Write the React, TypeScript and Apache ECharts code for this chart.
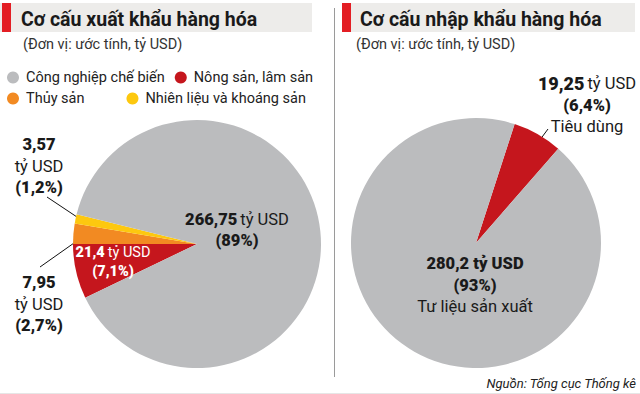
import React, { useEffect, useRef } from 'react';
import * as echarts from 'echarts';

// ---- Data ----
const exportNames = ['Nông sản, lâm sản', 'Thủy sản', 'Nhiên liệu và khoáng sản', 'Công nghiệp chế biến'];
const exportValues = [21.4, 7.95, 3.57, 266.75];
const exportPercents = ['7,1%', '2,7%', '1,2%', '89%'];
const exportColors = ['#c5161d', '#f28a22', '#fdc80f', '#bbbcbe'];

const importNames = ['Tiêu dùng', 'Tư liệu sản xuất'];
const importValues = [19.25, 280.2];
const importPercents = ['6,4%', '93%'];
const importColors = ['#c5161d', '#bbbcbe'];

const legendRow1 = ['Công nghiệp chế biến', 'Nông sản, lâm sản'];
const legendRow2 = ['Thủy sản', 'Nhiên liệu và khoáng sản'];

const FONT = 'Roboto, "Noto Sans", sans-serif';
const LC = [197, 244];
const LR = 124;
const RC = [476, 243];
const RR = 125;

const fmt = (v: number) => String(v).replace('.', ',');

function midAngle(vals: number[], start: number, i: number) {
  const total = vals.reduce((a, b) => a + b, 0);
  let acc = 0;
  for (let j = 0; j < i; j++) acc += vals[j];
  return start - (360 * (acc + vals[i] / 2)) / total;
}
function pt(c: number[], r: number, deg: number) {
  const a = (deg * Math.PI) / 180;
  return [c[0] + r * Math.cos(a), c[1] - r * Math.sin(a)];
}

export default function App() {
  const ref = useRef<HTMLDivElement>(null);
  useEffect(() => {
    document.body.style.margin = '0';
    const chart = echarts.init(ref.current!, null, { renderer: 'svg' });
    const expTotal = exportValues.reduce((a, b) => a + b, 0);
    const expStart = 180 + (360 * exportValues[0]) / expTotal;
    const impStart = 72;

    const rich: any = {
      b: { fontFamily: FONT, fontWeight: 900, fontSize: 16.5, color: '#1a1a1a', lineHeight: 21.5 },
      n: { fontFamily: FONT, fontSize: 16.5, color: '#1a1a1a', lineHeight: 21.5 },
      wb: { fontFamily: FONT, fontWeight: 900, fontSize: 14.5, color: '#ffffff', lineHeight: 19 },
      wn: { fontFamily: FONT, fontSize: 14.5, color: '#ffffff', lineHeight: 19 },
      B: { fontFamily: FONT, fontWeight: 900, fontSize: 18, color: '#1a1a1a', lineHeight: 22 },
    };

    const expLabelPos = [
      [113, 262],
      [39, 304],
      [39, 166],
      [237, 230],
    ];
    const impLabelPos = [
      [587, 105],
      [475, 285],
    ];

    const expData = exportNames.map((n, i) => {
      const v = exportValues[i];
      const p = exportPercents[i];
      let text = '';
      if (i === 0) text = `{wb|${fmt(v)}} {wn|tỷ USD}\n{wb|(${p})}`;
      else if (i === 3) text = `{b|${fmt(v)}} {n|tỷ USD}\n{b|(${p})}`;
      else text = `{b|${fmt(v)}}\n{n|tỷ USD}\n{b|(${p})}`;
      const inside = i === 0 || i === 3;
      return {
        name: n,
        value: v,
        itemStyle: { color: exportColors[i] },
        label: { position: inside ? 'inside' : 'outside', formatter: text },
        labelLine: { show: !inside },
      };
    });

    const impData = importNames.map((n, i) => {
      const v = importValues[i];
      const p = importPercents[i];
      const text =
        i === 0
          ? `{B|${fmt(v)}} {n|tỷ USD}\n{b|(${p})}\n{n|${n}}`
          : `{b|${fmt(v)} tỷ USD}\n{b|(${p})}\n{n|${n}}`;
      return {
        name: n,
        value: v,
        itemStyle: { color: importColors[i] },
        label: { position: i === 0 ? 'outside' : 'inside', formatter: text },
        labelLine: { show: i === 0 },
      };
    });

    const legendText = { fontFamily: FONT, fontSize: 14.5, color: '#222', padding: [0, 0, 0, 2] };

    const option: any = {
      animation: false,
      backgroundColor: '#ffffff',
      legend: [
        {
          data: legendRow1,
          left: 2,
          top: 65,
          icon: 'circle',
          itemWidth: 12,
          itemHeight: 12,
          itemGap: 10,
          selectedMode: false,
          textStyle: legendText,
        },
        {
          data: legendRow2,
          left: 2,
          top: 86,
          icon: 'circle',
          itemWidth: 12,
          itemHeight: 12,
          itemGap: 42,
          selectedMode: false,
          textStyle: legendText,
        },
      ],
      graphic: [
        { type: 'rect', shape: { x: 0, y: 3, width: 312, height: 29 }, style: { fill: '#edecea' } },
        { type: 'rect', shape: { x: 2, y: 3, width: 9, height: 29 }, style: { fill: '#e31e24' } },
        { type: 'rect', shape: { x: 342, y: 3, width: 293, height: 29 }, style: { fill: '#edecea' } },
        { type: 'rect', shape: { x: 342, y: 3, width: 9, height: 29 }, style: { fill: '#e31e24' } },
        {
          type: 'text',
          x: 21,
          y: 19,
          style: {
            text: 'Cơ cấu xuất khẩu hàng hóa',
            font: `bold 19.5px ${FONT}`,
            fill: '#1a1a1a',
            textVerticalAlign: 'middle',
            verticalAlign: 'middle',
          },
        },
        {
          type: 'text',
          x: 360,
          y: 19,
          style: {
            text: 'Cơ cấu nhập khẩu hàng hóa',
            font: `bold 19.5px ${FONT}`,
            fill: '#1a1a1a',
            textVerticalAlign: 'middle',
            verticalAlign: 'middle',
          },
        },
        {
          type: 'text',
          x: 23,
          y: 44,
          style: {
            text: '(Đơn vị: ước tính, tỷ USD)',
            font: `14.5px ${FONT}`,
            fill: '#333',
            textVerticalAlign: 'middle',
            verticalAlign: 'middle',
          },
        },
        {
          type: 'text',
          x: 356,
          y: 44,
          style: {
            text: '(Đơn vị: ước tính, tỷ USD)',
            font: `14.5px ${FONT}`,
            fill: '#333',
            textVerticalAlign: 'middle',
            verticalAlign: 'middle',
          },
        },
        { type: 'line', shape: { x1: 334.5, y1: 8, x2: 334.5, y2: 377 }, style: { stroke: '#9a9a9a', lineWidth: 1 } },
        { type: 'line', shape: { x1: 0, y1: 393.5, x2: 640, y2: 393.5 }, style: { stroke: '#e6e6e6', lineWidth: 1 } },
        {
          type: 'text',
          x: 636,
          y: 383,
          style: {
            text: 'Nguồn: Tổng cục Thống kê',
            font: `italic 13px ${FONT}`,
            fill: '#222',
            textAlign: 'right',
            align: 'right',
            textVerticalAlign: 'middle',
            verticalAlign: 'middle',
          },
        },
      ],
      series: [
        {
          type: 'pie',
          name: 'Xuất khẩu',
          center: LC,
          radius: LR,
          startAngle: expStart,
          clockwise: true,
          avoidLabelOverlap: false,
          silent: true,
          data: expData,
          label: { show: true, rich, fontFamily: FONT },
          labelLine: { show: true, lineStyle: { color: '#111', width: 1 } },
          labelLayout: (p: any) => {
            const i = p.dataIndex;
            const pos = expLabelPos[i];
            const res: any = { x: pos[0], y: pos[1], align: 'center', verticalAlign: 'middle' };
            if (i === 1 || i === 2) {
              const a = midAngle(exportValues, expStart, i);
              const s = pt(LC, LR * (i === 2 ? 0.95 : 0.9), a);
              const h = p.labelRect.height;
              const e = i === 2 ? [pos[0] + 8, pos[1] + h / 2 + 1] : [pos[0] + 1, pos[1] - h / 2 - 7];
              res.labelLinePoints = [s, e, e];
            }
            return res;
          },
        },
        {
          type: 'pie',
          name: 'Nhập khẩu',
          center: RC,
          radius: RR,
          startAngle: impStart,
          clockwise: true,
          avoidLabelOverlap: false,
          silent: true,
          data: impData,
          label: { show: true, rich, fontFamily: FONT },
          labelLine: { show: true, lineStyle: { color: '#111', width: 1 } },
          labelLayout: (p: any) => {
            const i = p.dataIndex;
            const pos = impLabelPos[i];
            const res: any = { x: pos[0], y: pos[1], align: 'center', verticalAlign: 'middle' };
            if (i === 0) {
              const a = midAngle(importValues, impStart, i);
              const s = pt(RC, RR * 0.66, a);
              const e = [pos[0] - 39, pos[1] + 24];
              res.labelLinePoints = [s, e, e];
            }
            return res;
          },
        },
      ],
    };
    chart.setOption(option);
    return () => chart.dispose();
  }, []);
  return <div ref={ref} style={{ position: 'fixed', left: 0, top: 0, width: 640, height: 394 }} />;
}
